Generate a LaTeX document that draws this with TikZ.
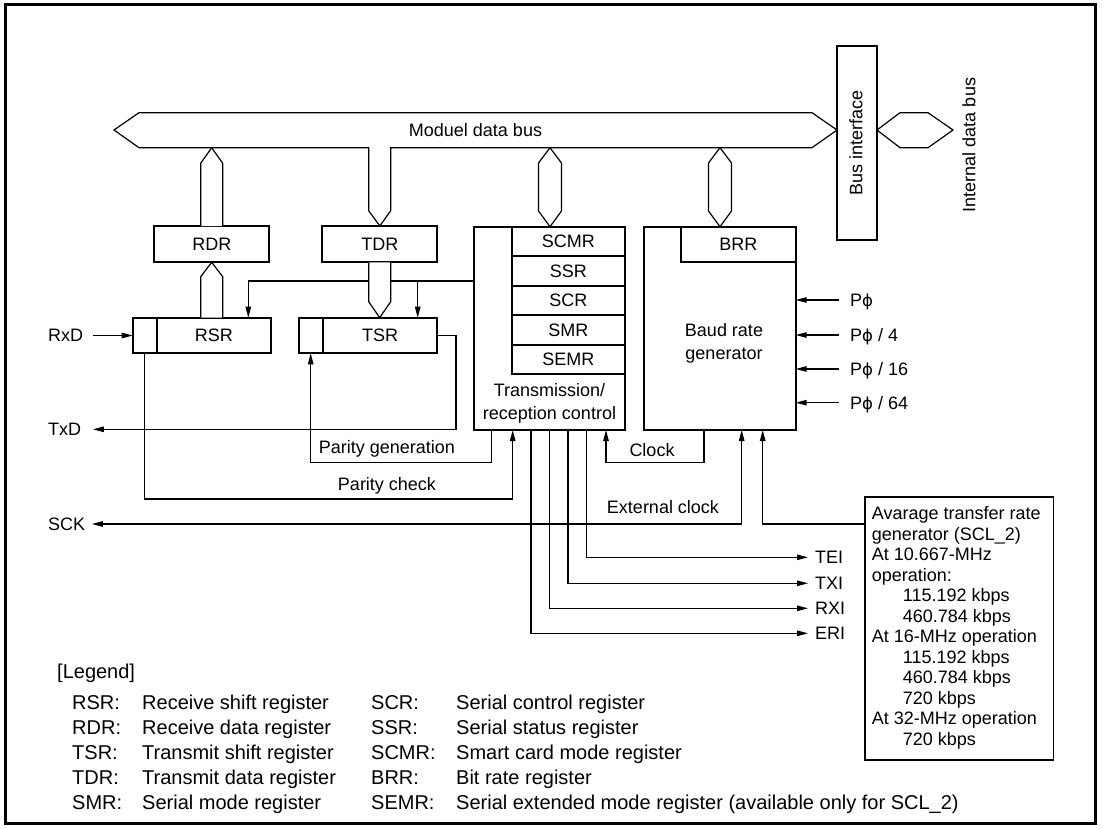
\documentclass[tikz,border=0pt]{standalone}
\usepackage{fontspec}
\setmainfont{Liberation Sans}
\newfontfamily\phifont{DejaVu Sans}
\usetikzlibrary{arrows.meta}
\newcommand{\mainfs}{\fontsize{18}{23.3}\selectfont}
\newcommand{\avgfs}{\fontsize{18}{20.5}\selectfont}
\newcommand{\legfs}{\fontsize{20}{24}\selectfont}
\newcommand{\ph}{{\phifont\fontsize{16.5}{18}\selectfont ϕ}}
\begin{document}
\begin{tikzpicture}[x=1pt,y=-1pt,
  >={Triangle[length=11pt,width=5.5pt]},
  box/.style={draw, line width=1.9pt, inner sep=0pt, outer sep=0pt, font=\mainfs},
  txt/.style={inner sep=0pt, font=\mainfs},
  lab/.style={inner sep=0pt, font=\mainfs, text height=12.9pt, text depth=0pt},
  leg/.style={inner sep=0pt, font=\legfs},
  wire/.style={line width=1.1pt},
  arr/.style={wire, ->},
  arrb/.style={wire, <->},
  bus/.style={draw, line width=1.2pt, fill=white, line join=miter}]
\useasboundingbox (0,0) rectangle (1104,828);
% frame
\draw[line width=3pt] (5,4.5) rectangle (1095.5,823.5);

% ---------- boxes ----------
\node[box, minimum width=115pt, minimum height=36.3pt] (RDR) at (211.8,244.15) {RDR};
\node[box, minimum width=115pt, minimum height=36.3pt] (TDR) at (379.8,244.15) {TDR};
\node[box, minimum width=24pt, minimum height=35.6pt] (RSRc) at (144.7,335.5) {};
\node[box, minimum width=114.3pt, minimum height=35.6pt] (RSR) at (213.85,335.5) {RSR};
\node[box, minimum width=24pt, minimum height=35.6pt] (TSRc) at (310.7,335.5) {};
\node[box, minimum width=114.6pt, minimum height=35.6pt] (TSR) at (380,335.5) {TSR};
\node[box, minimum width=151pt, minimum height=203.3pt] (CTRL) at (549.5,328.35) {};
\foreach \r/\c in {SCMR/241.45, SSR/270.95, SCR/300.45, SMR/329.95, SEMR/359.45}
  \node[box, minimum width=113.3pt, minimum height=29.5pt] (\r) at (568.35,\c) {\r};
\node[txt, align=center] (CTRLt) at (549.5,403.6) {Transmission/\\reception control};
\node[box, minimum width=151.4pt, minimum height=203.3pt] (BRG) at (720,328.35) {};
\node[box, minimum width=114.7pt, minimum height=35.6pt] (BRR) at (738.35,244.5) {BRR};
\node[txt, align=center] (BRGt) at (724,343.5) {Baud rate\\generator};
\node[box, minimum width=40pt, minimum height=194pt] (BUSIF) at (857,143) {};
\node[txt, rotate=90] (BUSIFt) at (856,143) {Bus interface};
\node[txt, rotate=90] (IDBt) at (969,145) {Internal data bus};
\node[box, minimum width=188.5pt, minimum height=263.3pt] (AVG) at (959.25,628.35) {};
\node[inner sep=0pt, font=\avgfs, align=left, anchor=north west] (AVGt) at (871.7,506.3)
  {Avarage transfer rate\\generator (SCL\_2)\\At 10.667-MHz\\operation:\\
   \hspace*{31pt}115.192 kbps\\\hspace*{31pt}460.784 kbps\\At 16-MHz operation\\
   \hspace*{31pt}115.192 kbps\\\hspace*{31pt}460.784 kbps\\\hspace*{31pt}720 kbps\\
   At 32-MHz operation\\\hspace*{31pt}720 kbps};

% ---------- external labels ----------
\node[lab, anchor=west] (RxD) at (48,335.5) {RxD};
\node[lab, anchor=west] (TxD) at (48,429.3) {TxD};
\node[lab, anchor=west] (SCK) at (48,524) {SCK};
\node[lab, anchor=west] (P1) at (850,300) {P\ph};
\node[lab, anchor=west] (P2) at (850,335) {P\ph\ / 4};
\node[lab, anchor=west] (P3) at (850,369) {P\ph\ / 16};
\node[lab, anchor=west] (P4) at (850,402.7) {P\ph\ / 64};
\node[lab, anchor=west] (TEI) at (815,557.3) {TEI};
\node[lab, anchor=west] (TXI) at (815,583.3) {TXI};
\node[lab, anchor=west] (RXI) at (815,608.3) {RXI};
\node[lab, anchor=west] (ERI) at (815,633.3) {ERI};
\node[lab] (PGt) at (387,446.7) {Parity generation};
\node[lab] (PCt) at (387,484) {Parity check};
\node[lab] (CKt) at (652,450) {Clock};
\node[lab] (EXt) at (663,507.3) {External clock};

% ---------- routing points ----------
\coordinate (cl) at (417.7,281);
\coordinate (cl2) at (248.3,281);
\coordinate (txd) at (456,429.3);
\coordinate (pg) at (491.7,462.3);
\coordinate (pc) at (512.7,499);
\coordinate (ck) at (704,462.3);
\coordinate (ckin) at (606,462.3);
\coordinate (ext) at (741.7,524);
\coordinate (av) at (762.7,524);
\coordinate (xtei) at (586.5,0);
\coordinate (xtxi) at (568,0);
\coordinate (xrxi) at (549.5,0);
\coordinate (xeri) at (531,0);

% ---------- wires ----------
\draw[arr] (CTRL.west |- cl) -- (cl2) -- (RSR.north -| cl2);
\draw[arr] (cl) -- (TSR.north -| cl);
\draw[arr] ([xshift=9.5pt]RxD.east) -- (RSRc.west);
\draw[arr] (TSR.east) -| (txd) -- ([xshift=11.5pt]TxD.east);
\draw[arr] (CTRL.south -| pg) |- (TSRc.south |- pg) -- (TSRc.south);
\draw[arr] (RSRc.south) |- (pc) -- (CTRL.south -| pc);
\draw[arr] (BRG.south -| ck) |- (ckin) -- (CTRL.south -| ckin);
\draw[arrb] ([xshift=6.5pt]SCK.east) -| (BRG.south -| ext);
\draw[arr] (AVG.west |- av) -- (av) -- (BRG.south -| av);
\draw[arr] (CTRL.south -| xtei) |- ([xshift=-7pt]TEI.west);
\draw[arr] (CTRL.south -| xtxi) |- ([xshift=-7pt]TXI.west);
\draw[arr] (CTRL.south -| xrxi) |- ([xshift=-7pt]RXI.west);
\draw[arr] (CTRL.south -| xeri) |- ([xshift=-7pt]ERI.west);
\foreach \p in {P1,P2,P3,P4}
  \draw[arr] ([xshift=-11pt]\p.west) -- (BRG.east |- \p.west);

% ---------- buses ----------
\draw[bus] (114,130) -- (139,112.7) -- (812,112.7) -- (BUSIF.west |- 0,130) -- (812,147.7)
  -- (390.7,147.7) -- (390.7,210.7) -- (TDR.north) -- (368.7,210.7) -- (368.7,147.7)
  -- (139,147.7) -- cycle;
\node[lab] (MDBt) at (475.5,130.5) {Moduel data bus};
\draw[bus] (RDR.north -| 200.7,0) -- (200.7,163.3) -- (211.7,147.7) -- (222.7,163.3) -- (RDR.north -| 222.7,0);
\draw[bus] (RSR.north -| 200.7,0) -- (200.7,276.7) -- (RDR.south -| 211.7,0) -- (222.7,276.7) -- (RSR.north -| 222.7,0);
\draw[bus] (TDR.south -| 368.7,0) -- (368.7,301.7) -- (TSR.north -| 379.7,0) -- (390.7,301.7) -- (TDR.south -| 390.7,0);
\draw[bus] (538.5,163) -- (550,147.7) -- (561.5,163) -- (561.5,211) -- (SCMR.north -| 550,0) -- (538.5,211) -- cycle;
\draw[bus] (708.5,163) -- (720,147.7) -- (731.5,163) -- (731.5,211) -- (BRR.north -| 720,0) -- (708.5,211) -- cycle;
\draw[bus] (BUSIF.east |- 0,130) -- (900,112.7) -- (928,112.7) -- (953,130) -- (928,147.7) -- (900,147.7) -- cycle;

% ---------- legend ----------
\node[leg, anchor=base west] (LEG) at (57,678) {[Legend]};
\foreach \n/\y/\a/\d/\b/\e in {
  1/702/RSR:/Receive shift register/SCR:/Serial control register,
  2/727/RDR:/Receive data register/SSR:/Serial status register,
  3/752/TSR:/Transmit shift register/SCMR:/Smart card mode register,
  4/777/TDR:/Transmit data register/BRR:/Bit rate register,
  5/802/SMR:/Serial mode register/SEMR:/Serial extended mode register (available only for SCL\_2)}
{
  \node[leg, anchor=base west] (La\n) at (72,\y+7) {\a};
  \node[leg, anchor=base west] (Ld\n) at (142,\y+7) {\d};
  \node[leg, anchor=base west] (Lb\n) at (371,\y+7) {\b};
  \node[leg, anchor=base west] (Le\n) at (456,\y+7) {\e};
}
\end{tikzpicture}
\end{document}
